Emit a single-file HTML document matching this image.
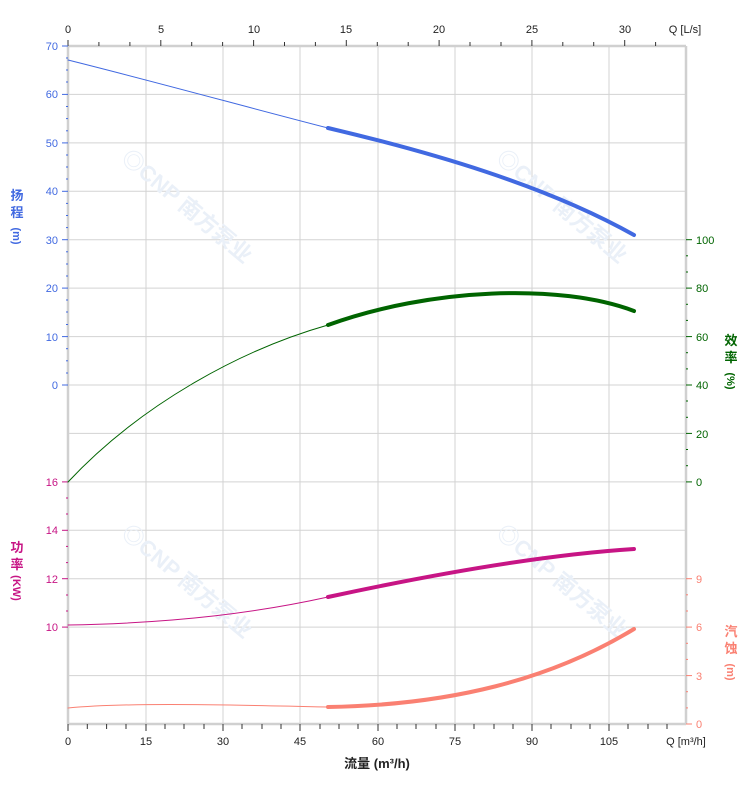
<!DOCTYPE html>
<html><head><meta charset="utf-8"><style>
html,body{margin:0;padding:0;background:#fff}
svg{display:block;font-family:"Liberation Sans","Noto Sans CJK SC",sans-serif}
</style></head><body>
<svg width="752" height="797" viewBox="0 0 752 797" xmlns="http://www.w3.org/2000/svg">
<g stroke="#d3d3d3" stroke-width="1">
<line x1="146" y1="46" x2="146" y2="724"/><line x1="223" y1="46" x2="223" y2="724"/><line x1="300" y1="46" x2="300" y2="724"/><line x1="378" y1="46" x2="378" y2="724"/><line x1="455" y1="46" x2="455" y2="724"/><line x1="532" y1="46" x2="532" y2="724"/><line x1="609" y1="46" x2="609" y2="724"/>
<line x1="68" y1="94.4" x2="686" y2="94.4"/><line x1="68" y1="142.9" x2="686" y2="142.9"/><line x1="68" y1="191.3" x2="686" y2="191.3"/><line x1="68" y1="239.7" x2="686" y2="239.7"/><line x1="68" y1="288.1" x2="686" y2="288.1"/><line x1="68" y1="336.6" x2="686" y2="336.6"/><line x1="68" y1="385" x2="686" y2="385"/><line x1="68" y1="433.4" x2="686" y2="433.4"/><line x1="68" y1="481.9" x2="686" y2="481.9"/><line x1="68" y1="530.3" x2="686" y2="530.3"/><line x1="68" y1="578.7" x2="686" y2="578.7"/><line x1="68" y1="627.1" x2="686" y2="627.1"/><line x1="68" y1="675.6" x2="686" y2="675.6"/>
</g>
<g stroke="#d0d0d0" stroke-width="2.5">
<line x1="68" y1="46" x2="686" y2="46"/><line x1="68" y1="724" x2="686" y2="724"/>
<line x1="68" y1="46" x2="68" y2="724"/><line x1="686" y1="46" x2="686" y2="724"/>
</g>
<g fill="#eaf0f8" font-size="22" font-weight="bold">
<text x="120" y="160" transform="rotate(40 120 160)">◎CNP 南方泵业</text>
<text x="495" y="160" transform="rotate(40 495 160)">◎CNP 南方泵业</text>
<text x="120" y="535" transform="rotate(40 120 535)">◎CNP 南方泵业</text>
<text x="495" y="535" transform="rotate(40 495 535)">◎CNP 南方泵业</text>
</g>
<!-- top ticks -->
<g stroke="#333" stroke-width="1">
<line x1="68" y1="40" x2="68" y2="46"/><line x1="98.9" y1="42" x2="98.9" y2="46"/><line x1="129.9" y1="42" x2="129.9" y2="46"/>
<line x1="160.8" y1="40" x2="160.8" y2="46"/><line x1="191.7" y1="42" x2="191.7" y2="46"/><line x1="222.6" y1="42" x2="222.6" y2="46"/>
<line x1="253.6" y1="40" x2="253.6" y2="46"/><line x1="284.5" y1="42" x2="284.5" y2="46"/><line x1="315.4" y1="42" x2="315.4" y2="46"/>
<line x1="346.3" y1="40" x2="346.3" y2="46"/><line x1="377.3" y1="42" x2="377.3" y2="46"/><line x1="408.2" y1="42" x2="408.2" y2="46"/>
<line x1="439.1" y1="40" x2="439.1" y2="46"/><line x1="470" y1="42" x2="470" y2="46"/><line x1="501" y1="42" x2="501" y2="46"/>
<line x1="531.9" y1="40" x2="531.9" y2="46"/><line x1="562.8" y1="42" x2="562.8" y2="46"/><line x1="593.7" y1="42" x2="593.7" y2="46"/>
<line x1="624.7" y1="40" x2="624.7" y2="46"/><line x1="655.6" y1="42" x2="655.6" y2="46"/>
</g>
<g font-size="11" fill="#222" text-anchor="middle">
<text x="68" y="33">0</text><text x="161" y="33">5</text><text x="254" y="33">10</text><text x="346" y="33">15</text><text x="439" y="33">20</text><text x="532" y="33">25</text><text x="625" y="33">30</text>
<text x="685" y="33">Q [L/s]</text>
</g>
<!-- bottom ticks -->
<g stroke="#333" stroke-width="1">
<line x1="68" y1="724" x2="68" y2="731"/><line x1="87.3" y1="724" x2="87.3" y2="729"/><line x1="106.6" y1="724" x2="106.6" y2="729"/><line x1="126" y1="724" x2="126" y2="729"/><line x1="146" y1="724" x2="146" y2="731"/><line x1="165" y1="724" x2="165" y2="729"/><line x1="184" y1="724" x2="184" y2="729"/><line x1="204" y1="724" x2="204" y2="729"/><line x1="223" y1="724" x2="223" y2="731"/><line x1="242" y1="724" x2="242" y2="729"/><line x1="262" y1="724" x2="262" y2="729"/><line x1="281" y1="724" x2="281" y2="729"/><line x1="300" y1="724" x2="300" y2="731"/><line x1="320" y1="724" x2="320" y2="729"/><line x1="339" y1="724" x2="339" y2="729"/><line x1="358" y1="724" x2="358" y2="729"/><line x1="378" y1="724" x2="378" y2="731"/><line x1="397" y1="724" x2="397" y2="729"/><line x1="416" y1="724" x2="416" y2="729"/><line x1="436" y1="724" x2="436" y2="729"/><line x1="455" y1="724" x2="455" y2="731"/><line x1="474" y1="724" x2="474" y2="729"/><line x1="494" y1="724" x2="494" y2="729"/><line x1="513" y1="724" x2="513" y2="729"/><line x1="532" y1="724" x2="532" y2="731"/><line x1="551" y1="724" x2="551" y2="729"/><line x1="571" y1="724" x2="571" y2="729"/><line x1="590" y1="724" x2="590" y2="729"/><line x1="609" y1="724" x2="609" y2="731"/><line x1="628" y1="724" x2="628" y2="729"/><line x1="648" y1="724" x2="648" y2="729"/><line x1="667" y1="724" x2="667" y2="729"/>
</g>
<g font-size="11" fill="#222" text-anchor="middle">
<text x="68" y="745">0</text><text x="146" y="745">15</text><text x="223" y="745">30</text><text x="300" y="745">45</text><text x="378" y="745">60</text><text x="455" y="745">75</text><text x="532" y="745">90</text><text x="609" y="745">105</text>
<text x="686" y="745">Q [m³/h]</text>
<text x="377" y="768" font-size="13" font-weight="bold">流量 (m³/h)</text>
</g>
<!-- left head axis -->
<g stroke="#4169e1" stroke-width="1">
<line x1="62" y1="46" x2="68" y2="46"/><line x1="62" y1="94.4" x2="68" y2="94.4"/><line x1="62" y1="142.9" x2="68" y2="142.9"/><line x1="62" y1="191.3" x2="68" y2="191.3"/><line x1="62" y1="239.7" x2="68" y2="239.7"/><line x1="62" y1="288.1" x2="68" y2="288.1"/><line x1="62" y1="336.6" x2="68" y2="336.6"/><line x1="62" y1="385" x2="68" y2="385"/>
<line x1="66" y1="58" x2="68" y2="58"/><line x1="66" y1="70" x2="68" y2="70"/><line x1="66" y1="82" x2="68" y2="82"/><line x1="66" y1="106.5" x2="68" y2="106.5"/><line x1="66" y1="118.6" x2="68" y2="118.6"/><line x1="66" y1="130.8" x2="68" y2="130.8"/><line x1="66" y1="155" x2="68" y2="155"/><line x1="66" y1="167" x2="68" y2="167"/><line x1="66" y1="179" x2="68" y2="179"/><line x1="66" y1="203.4" x2="68" y2="203.4"/><line x1="66" y1="215.5" x2="68" y2="215.5"/><line x1="66" y1="227.6" x2="68" y2="227.6"/><line x1="66" y1="251.8" x2="68" y2="251.8"/><line x1="66" y1="264" x2="68" y2="264"/><line x1="66" y1="276" x2="68" y2="276"/><line x1="66" y1="300" x2="68" y2="300"/><line x1="66" y1="312" x2="68" y2="312"/><line x1="66" y1="324.5" x2="68" y2="324.5"/><line x1="66" y1="348.7" x2="68" y2="348.7"/><line x1="66" y1="360.8" x2="68" y2="360.8"/><line x1="66" y1="373" x2="68" y2="373"/>
</g>
<g font-size="11" fill="#4169e1" text-anchor="end">
<text x="58" y="50">70</text><text x="58" y="98">60</text><text x="58" y="147">50</text><text x="58" y="195">40</text><text x="58" y="244">30</text><text x="58" y="292">20</text><text x="58" y="341">10</text><text x="58" y="389">0</text>
</g>
<g font-size="13" font-weight="bold" fill="#4169e1" text-anchor="middle"><text x="17" y="200">扬</text><text x="17" y="217">程</text><text x="17" y="240" font-size="11" transform="rotate(90 17 236)">(m)</text></g>
<!-- left power axis -->
<g stroke="#c71585" stroke-width="1">
<line x1="62" y1="481.9" x2="68" y2="481.9"/><line x1="62" y1="530.3" x2="68" y2="530.3"/><line x1="62" y1="578.7" x2="68" y2="578.7"/><line x1="62" y1="627.1" x2="68" y2="627.1"/>
<line x1="66" y1="498" x2="68" y2="498"/><line x1="66" y1="514" x2="68" y2="514"/><line x1="66" y1="546.4" x2="68" y2="546.4"/><line x1="66" y1="562.6" x2="68" y2="562.6"/><line x1="66" y1="595" x2="68" y2="595"/><line x1="66" y1="611" x2="68" y2="611"/>
</g>
<g font-size="11" fill="#c71585" text-anchor="end">
<text x="58" y="486">16</text><text x="58" y="534">14</text><text x="58" y="583">12</text><text x="58" y="631">10</text>
</g>
<g font-size="13" font-weight="bold" fill="#c71585" text-anchor="middle"><text x="17" y="552">功</text><text x="17" y="569">率</text><text x="17" y="592" font-size="11" transform="rotate(90 17 588)">(KW)</text></g>
<!-- right efficiency axis -->
<g stroke="#006400" stroke-width="1">
<line x1="686" y1="239.7" x2="692" y2="239.7"/><line x1="686" y1="288.1" x2="692" y2="288.1"/><line x1="686" y1="336.6" x2="692" y2="336.6"/><line x1="686" y1="385" x2="692" y2="385"/><line x1="686" y1="433.4" x2="692" y2="433.4"/><line x1="686" y1="481.9" x2="692" y2="481.9"/>
<line x1="686" y1="255.8" x2="688" y2="255.8"/><line x1="686" y1="272" x2="688" y2="272"/><line x1="686" y1="304.3" x2="688" y2="304.3"/><line x1="686" y1="320.4" x2="688" y2="320.4"/><line x1="686" y1="352.7" x2="688" y2="352.7"/><line x1="686" y1="368.9" x2="688" y2="368.9"/><line x1="686" y1="401" x2="688" y2="401"/><line x1="686" y1="417.3" x2="688" y2="417.3"/><line x1="686" y1="449.5" x2="688" y2="449.5"/><line x1="686" y1="465.7" x2="688" y2="465.7"/>
</g>
<g font-size="11" fill="#006400">
<text x="696" y="244">100</text><text x="696" y="292">80</text><text x="696" y="341">60</text><text x="696" y="389">40</text><text x="696" y="438">20</text><text x="696" y="486">0</text>
</g>
<g font-size="13" font-weight="bold" fill="#006400" text-anchor="middle"><text x="731" y="345">效</text><text x="731" y="362">率</text><text x="731" y="385" font-size="11" transform="rotate(90 731 381)">(%)</text></g>
<!-- right npsh axis -->
<g stroke="#fa8072" stroke-width="1">
<line x1="686" y1="578.7" x2="692" y2="578.7"/><line x1="686" y1="627.1" x2="692" y2="627.1"/><line x1="686" y1="675.6" x2="692" y2="675.6"/><line x1="686" y1="724" x2="692" y2="724"/>
<line x1="686" y1="594.8" x2="688" y2="594.8"/><line x1="686" y1="611" x2="688" y2="611"/><line x1="686" y1="643.3" x2="688" y2="643.3"/><line x1="686" y1="659.4" x2="688" y2="659.4"/><line x1="686" y1="691.7" x2="688" y2="691.7"/><line x1="686" y1="707.9" x2="688" y2="707.9"/>
</g>
<g font-size="11" fill="#fa8072">
<text x="696" y="583">9</text><text x="696" y="631">6</text><text x="696" y="680">3</text><text x="696" y="728">0</text>
</g>
<g font-size="13" font-weight="bold" fill="#fa8072" text-anchor="middle"><text x="731" y="636">汽</text><text x="731" y="653">蚀</text><text x="731" y="676" font-size="11" transform="rotate(90 731 672)">(m)</text></g>
<!-- curves -->
<g fill="none" stroke-linecap="round">
<path d="M68,60 C160,83 250,108 328,128" stroke="#4169e1" stroke-width="1"/>
<path d="M328,128 C430,152 545,185 634,235" stroke="#4169e1" stroke-width="4"/>
<path d="M68,482 C140,405 240,350 328,325" stroke="#006400" stroke-width="1"/>
<path d="M328,325 C430,288 560,283 634,311" stroke="#006400" stroke-width="4"/>
<path d="M68,625 C180,623 260,612 328,597" stroke="#c71585" stroke-width="1"/>
<path d="M328,597 C430,575 540,555 634,549" stroke="#c71585" stroke-width="4"/>
<path d="M68,708 C120,703 200,704 328,707" stroke="#fa8072" stroke-width="1"/>
<path d="M328,707 C450,705 550,680 634,629" stroke="#fa8072" stroke-width="4"/>
</g>
</svg>
</body></html>
